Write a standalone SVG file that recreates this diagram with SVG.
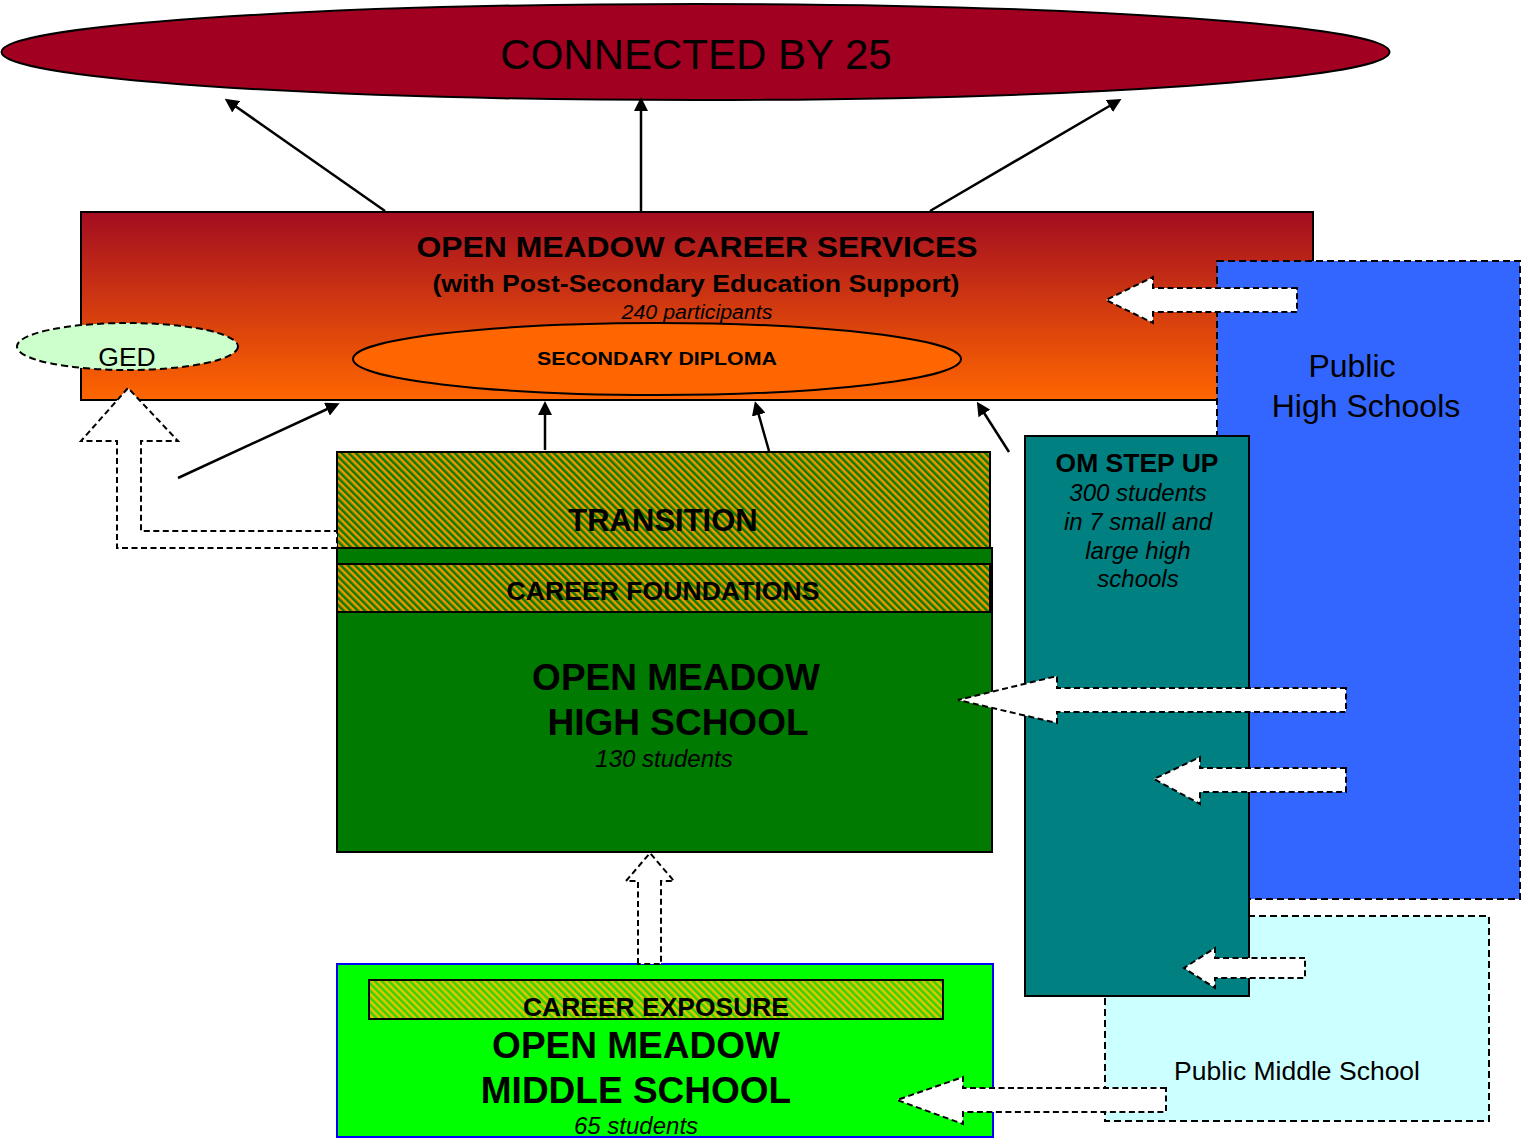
<svg xmlns="http://www.w3.org/2000/svg" width="1522" height="1139" viewBox="0 0 1522 1139">
<style>
text{font-family:"Liberation Sans",Arial,sans-serif;fill:#000}
.b{font-weight:bold}
.i{font-style:italic}
.dash{stroke:#000;stroke-width:2;stroke-dasharray:7,4}
.blk{fill:#fff;stroke:#000;stroke-width:2;stroke-dasharray:6,3.5}
.ar{stroke:#000;stroke-width:2.5;fill:none;marker-end:url(#ah)}
</style>
<defs>
<linearGradient id="cs" x1="0" y1="0" x2="0" y2="1">
<stop offset="0" stop-color="#a30d20"/>
<stop offset="1" stop-color="#ff6600"/>
</linearGradient>
<pattern id="hatchT" patternUnits="userSpaceOnUse" width="5" height="5" patternTransform="rotate(-45)">
<rect width="5" height="5" fill="#f29400"/>
<rect width="2.5" height="5" fill="#0a7d00"/>
</pattern>
<pattern id="hatchE" patternUnits="userSpaceOnUse" width="5" height="5" patternTransform="rotate(-45)">
<rect width="5" height="5" fill="#e6c400"/>
<rect width="2.5" height="5" fill="#33d400"/>
</pattern>
<marker id="ah" markerWidth="14" markerHeight="14" refX="10" refY="7" orient="auto" markerUnits="userSpaceOnUse" viewBox="0 0 14 14">
<path d="M0,0 L14,7 L0,14 z" fill="#000"/>
</marker>
</defs>
<rect width="1522" height="1139" fill="#fff"/>

<g id="connected-by-25">
<ellipse cx="695.5" cy="52" rx="694" ry="48" fill="#a20020" stroke="#000" stroke-width="2"/>
<text x="696" y="69" font-size="42" text-anchor="middle">CONNECTED BY 25</text>
</g>

<g id="career-services">
<rect x="81" y="212" width="1232" height="188" fill="url(#cs)" stroke="#000" stroke-width="2"/>
<text class="b" x="697" y="257" font-size="30" text-anchor="middle" textLength="561" lengthAdjust="spacingAndGlyphs">OPEN MEADOW CAREER SERVICES</text>
<text class="b" x="696" y="292" font-size="24" text-anchor="middle" textLength="527" lengthAdjust="spacingAndGlyphs">(with Post-Secondary Education Support)</text>
<text class="i" x="697" y="319" font-size="20" text-anchor="middle" textLength="151" lengthAdjust="spacingAndGlyphs">240 participants</text>
</g>

<g id="secondary-diploma">
<ellipse cx="657" cy="359" rx="304" ry="36" fill="#ff6600" stroke="#000" stroke-width="2"/>
<text class="b" x="657" y="365" font-size="19" text-anchor="middle" textLength="240" lengthAdjust="spacingAndGlyphs">SECONDARY DIPLOMA</text>
</g>

<g id="ged">
<ellipse cx="127.5" cy="346.5" rx="110.5" ry="23.5" fill="#ccffcc" class="dash"/>
<text x="127" y="366" font-size="26.5" text-anchor="middle">GED</text>
</g>

<g id="public-high-schools">
<rect x="1217" y="261" width="303" height="638" fill="#3366ff" class="dash"/>
<text x="1352" y="377" font-size="32" text-anchor="middle">Public</text>
<text x="1366" y="417" font-size="32" text-anchor="middle">High Schools</text>
</g>

<g id="public-middle-school">
<rect x="1105" y="916" width="384" height="205" fill="#ccffff" class="dash"/>
<text x="1297" y="1080" font-size="26.5" text-anchor="middle">Public Middle School</text>
</g>

<g id="om-step-up">
<rect x="1025" y="436" width="224" height="560" fill="#008080" stroke="#000" stroke-width="2"/>
<text class="b" x="1137" y="472" font-size="26.5" text-anchor="middle">OM STEP UP</text>
<text class="i" x="1138" y="501" font-size="24" text-anchor="middle">300 students</text>
<text class="i" x="1138" y="530" font-size="24" text-anchor="middle">in 7 small and</text>
<text class="i" x="1138" y="559" font-size="24" text-anchor="middle">large high</text>
<text class="i" x="1138" y="587" font-size="24" text-anchor="middle">schools</text>
</g>

<g id="open-meadow-high-school">
<rect x="337" y="548" width="655" height="304" fill="#007a00" stroke="#000" stroke-width="2"/>
<text class="b" x="676" y="690" font-size="37" text-anchor="middle">OPEN MEADOW</text>
<text class="b" x="678" y="735" font-size="37" text-anchor="middle">HIGH SCHOOL</text>
<text class="i" x="664" y="767" font-size="24" text-anchor="middle">130 students</text>
</g>

<g id="transition">
<rect x="337" y="452" width="653" height="96" fill="url(#hatchT)" stroke="#000" stroke-width="2"/>
<text class="b" x="663" y="531" font-size="31" text-anchor="middle">TRANSITION</text>
</g>

<g id="career-foundations">
<rect x="337" y="564" width="653" height="48" fill="url(#hatchT)" stroke="#000" stroke-width="2"/>
<text class="b" x="663" y="600" font-size="26" text-anchor="middle" textLength="313" lengthAdjust="spacingAndGlyphs">CAREER FOUNDATIONS</text>
</g>

<g id="open-meadow-middle-school">
<rect x="337" y="964" width="656" height="173" fill="#00ff00" stroke="#0000ff" stroke-width="2"/>
<text class="b" x="636" y="1058" font-size="37" text-anchor="middle">OPEN MEADOW</text>
<text class="b" x="636" y="1103" font-size="37" text-anchor="middle">MIDDLE SCHOOL</text>
<text class="i" x="636" y="1134" font-size="24" text-anchor="middle">65 students</text>
</g>

<g id="career-exposure">
<rect x="369" y="980" width="574" height="39" fill="url(#hatchE)" stroke="#000" stroke-width="2"/>
<text class="b" x="656" y="1016" font-size="26" text-anchor="middle" textLength="266" lengthAdjust="spacingAndGlyphs">CAREER EXPOSURE</text>
</g>

<g id="connectors">
<line class="ar" x1="385" y1="211" x2="228" y2="101"/>
<line class="ar" x1="641" y1="211" x2="641" y2="101"/>
<line class="ar" x1="930" y1="211" x2="1118" y2="101"/>
<line class="ar" x1="178" y1="478" x2="336" y2="405"/>
<line class="ar" x1="545" y1="450" x2="545" y2="405"/>
<line class="ar" x1="769" y1="451" x2="756" y2="405"/>
<line class="ar" x1="1009" y1="452" x2="979" y2="405"/>
<polygon class="blk" points="337,548 117,548 117,441 81,441 128,388 178,441 141,441 141,531 337,531"/>
<polygon class="blk" points="638,964 638,881 626,881 650,853 674,881 661,881 661,964"/>
<polygon class="blk" points="1297,288 1153,288 1153,277 1106,300 1153,323 1153,312 1297,312"/>
<polygon class="blk" points="1346,688 1057,688 1057,676 958,700 1057,723 1057,712 1346,712"/>
<polygon class="blk" points="1346,768 1200,768 1200,757 1154,779 1200,804 1200,792 1346,792"/>
<polygon class="blk" points="1305,958 1215,958 1215,948 1184,968 1215,988 1215,978 1305,978"/>
<polygon class="blk" points="1166,1088 963,1088 963,1077 897,1100 963,1124 963,1112 1166,1112"/>
</g>
</svg>
